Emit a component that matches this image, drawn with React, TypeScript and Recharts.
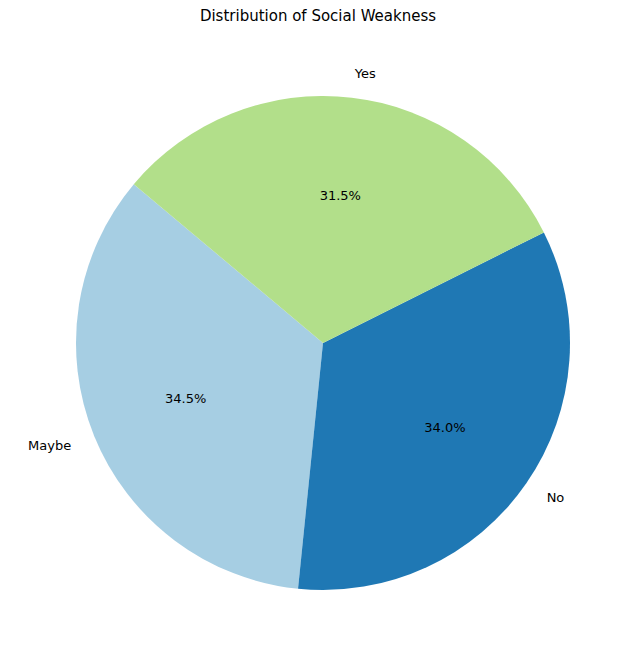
import React from "react";
import { PieChart, Pie, Cell } from "recharts";

const categories = ["Maybe", "No", "Yes"];
const values = [34.5, 34.0, 31.5];
const colors = ["#a6cee3", "#1f78b4", "#b2df8a"];

const data = categories.map((name, i) => ({ name, value: values[i] }));
const RAD = Math.PI / 180;

const renderLabel = (p: any) => {
  const { cx, cy, midAngle, outerRadius, percent, index } = p;
  const c = Math.cos(-midAngle * RAD);
  const s = Math.sin(-midAngle * RAD);
  const lx = cx + outerRadius * 1.1 * c;
  const ly = cy + outerRadius * 1.1 * s;
  const px = cx + outerRadius * 0.6 * c;
  const py = cy + outerRadius * 0.6 * s;
  return (
    <g>
      <text x={lx} y={ly} textAnchor={c >= 0 ? "start" : "end"} dominantBaseline="central" fontSize={13} fill="#000" fontFamily="DejaVu Sans">
        {categories[index]}
      </text>
      <text x={px} y={py} textAnchor="middle" dominantBaseline="central" fontSize={13} fill="#000" fontFamily="DejaVu Sans">
        {(percent * 100).toFixed(1)}%
      </text>
    </g>
  );
};

export default function App() {
  return (
    <div style={{ position: "absolute", left: 0, top: 0, width: 636, height: 656, background: "#fff" }}>
      <div style={{ position: "absolute", top: 7, width: 636, textAlign: "center", fontFamily: "DejaVu Sans", fontSize: 15 }}>
        Distribution of Social Weakness
      </div>
      <PieChart width={636} height={656}>
        <Pie
          data={data}
          dataKey="value"
          cx={318}
          cy={338}
          outerRadius={247}
          startAngle={140}
          endAngle={500}
          stroke="none"
          label={renderLabel}
          labelLine={false}
          isAnimationActive={false}
        >
          {data.map((d, i) => (
            <Cell key={d.name} fill={colors[i]} />
          ))}
        </Pie>
      </PieChart>
    </div>
  );
}
